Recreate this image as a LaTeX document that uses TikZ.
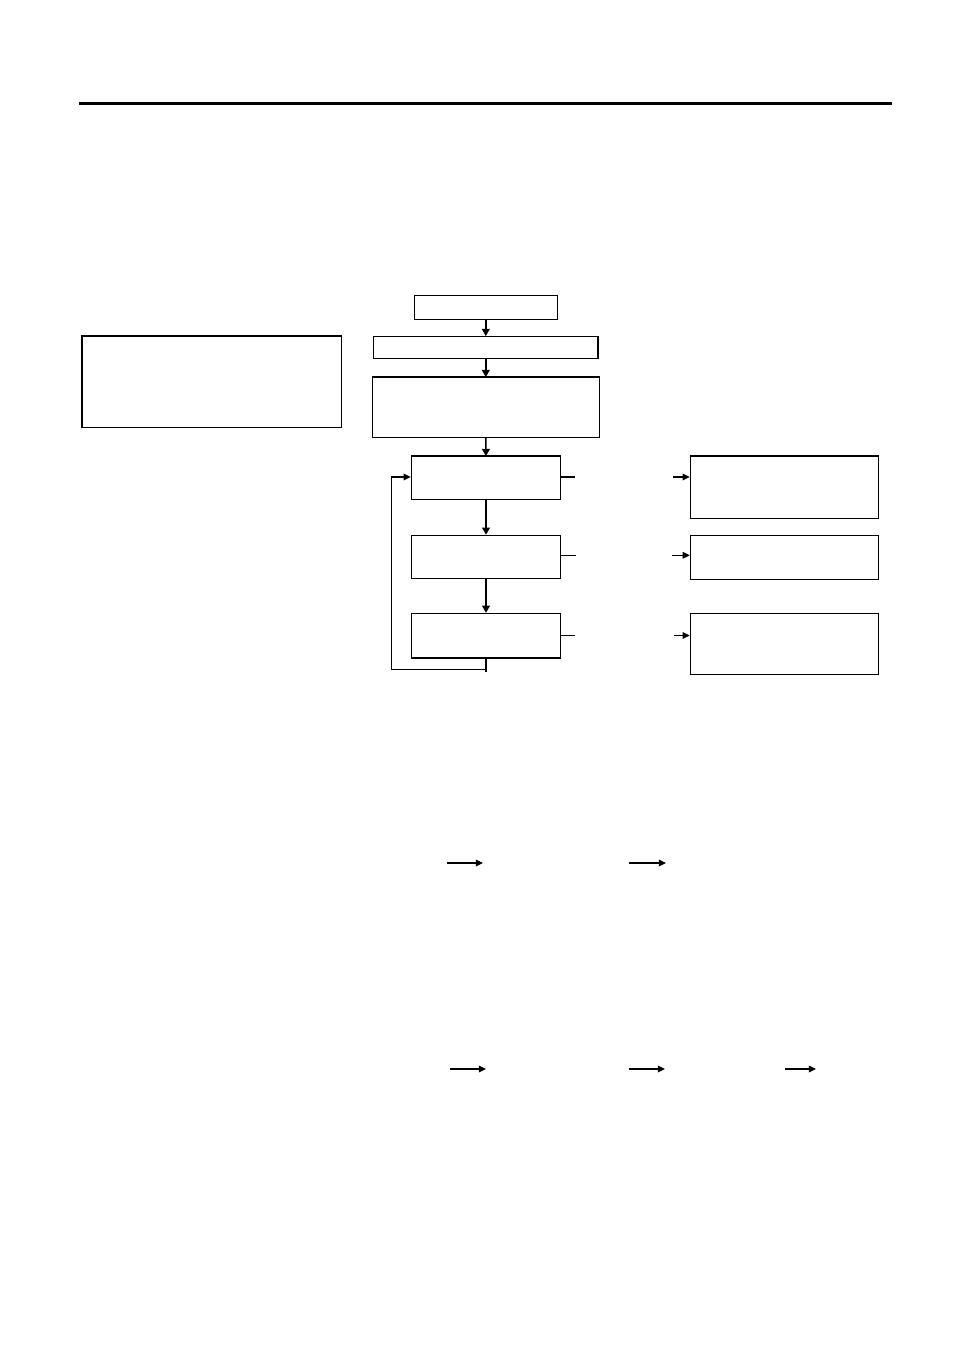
\documentclass[tikz,border=0pt]{standalone}
\usetikzlibrary{arrows.meta, positioning, calc}
\def\u{0.6237pt}

\begin{document}
\begin{tikzpicture}[x=0.6237pt, y=-0.6237pt,
    box/.style={draw, line width=0.65pt, inner sep=0pt},
    arr/.style={-{Triangle[length=4.5pt, width=4.2pt]}, line width=0.65pt},
    darr/.style={-{Triangle[length=4.5pt, width=4.8pt]}, line width=1.1pt}]
    \useasboundingbox (0,0) rectangle (954,1351);
    \draw[line width=1.9pt] (79,103.5) -- (892,103.5);
    % boxes
    \node[box, line width=0.85pt, minimum width=259.5*\u, minimum height=91.5*\u] (info) at (211.7,381.6) {};
    \node[box, minimum width=143*\u, minimum height=24*\u] (start) at (485.8,307.3) {};
    \node[box, minimum width=224.4*\u, minimum height=22.3*\u] (prep) at (485.8,347.8) {};
    \node[box, minimum width=227*\u, minimum height=59.6*\u] (setup) at (485.8,407.5) {};
    \node[box, minimum width=149.4*\u, minimum height=42.6*\u] (stepA) at (486,478) {};
    \node[box, minimum width=149.4*\u, minimum height=43*\u] (stepB) at (486,556.8) {};
    \node[box, minimum width=149.4*\u, minimum height=43.7*\u] (stepC) at (486,635.2) {};
    \node[box, minimum width=188.4*\u, minimum height=62*\u] (outA) at (784.5,487.3) {};
    \node[box, minimum width=188.4*\u, minimum height=43.7*\u] (outB) at (784.5,557.2) {};
    \node[box, minimum width=188.4*\u, minimum height=61*\u] (outC) at (784.5,643.8) {};
    \draw[line width=1.3pt] (setup.north west) -- (setup.north east);
    \draw[line width=1.3pt] (stepA.north west) -- (stepA.north east);
    \draw[line width=1.3pt] (stepC.south west) -- (stepC.south east);
    \draw[line width=1.3pt] (outA.north west) -- (outA.north east);
    % main flow
    \draw[darr, line width=0.95pt] (start) -- (prep);
    \draw[darr, line width=0.95pt] (prep) -- (setup);
    \draw[darr, line width=0.95pt] (setup) -- (stepA);
    \draw[darr] (stepA) -- (stepB);
    \draw[darr] (stepB) -- (stepC);
    \coordinate (loop) at (391.7,669.5);
    \draw[line width=1.1pt] (stepC.south) -- ++(0,14);
    \draw[arr] (stepC.south) |- (loop) |- ($(stepA.west)+(0,-1)$);
    % side links
    \coordinate (sA) at (575,477);
    \coordinate (sB) at (576,555.3);
    \coordinate (sC) at (575,635.5);
    \coordinate (tA) at (673.3,477);
    \coordinate (tB) at (672,555.3);
    \coordinate (tC) at (674.3,635.5);
    \draw[line width=0.65pt] (sA -| stepA.east) -- (sA);
    \draw[line width=0.65pt] (sB -| stepB.east) -- (sB);
    \draw[line width=0.65pt] (sC -| stepC.east) -- (sC);
    \draw[arr] (tA) -- (tA -| outA.west);
    \draw[arr] (tB) -- (tB -| outB.west);
    \draw[arr] (tC) -- (tC -| outC.west);
    % lower arrows
    \foreach \x/\y/\l [count=\i] in {447/863/36, 629/863/37, 450/1069/36, 629/1069/36, 785/1069/31}
        \draw[arr] (\x,\y) coordinate (a\i) -- ++(\l,0);
\end{tikzpicture}
\end{document}
